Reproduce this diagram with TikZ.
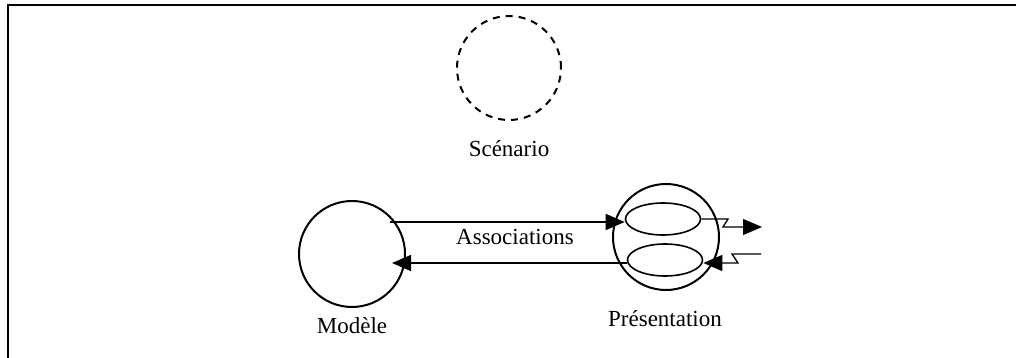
\documentclass[tikz,border=0pt]{standalone}
\usepackage{fontspec}
\setmainfont{Liberation Serif}
\usetikzlibrary{shapes.geometric,arrows.meta,calc}
\begin{document}
\begin{tikzpicture}[x=1pt,y=-1pt,
  bigcirc/.style={circle,draw,line width=2pt,minimum size=106pt,inner sep=0pt},
  oval/.style={ellipse,draw,line width=1.6pt,minimum width=75pt,minimum height=32pt,inner sep=0pt},
  lbl/.style={font=\fontsize{23}{26}\selectfont,inner sep=0pt},
  arr/.style={line width=1.3pt,-{Triangle[length=19pt,width=16pt]}},
  zig/.style={line width=1.3pt}]
\useasboundingbox (0,0) rectangle (1016,358);
\draw[line width=2.5pt] (1016,5) -- (8,5) -- (8,358);
\node[bigcirc,dashed,dash pattern=on 7pt off 6pt,minimum size=104pt] (scen) at (509,68) {};
\node[lbl] (scenl) at (509,149) {Scénario};
\node[bigcirc] (mod) at (352,254) {};
\node[lbl] (modl) at (352,326) {Modèle};
\node[bigcirc] (pres) at (666,237) {};
\node[lbl] (presl) at (665,319) {Présentation};
\node[oval] (e1) at (663,219) {};
\node[oval] (e2) at (665,260) {};
\node[lbl] (assoc) at (515,237) {Associations};
\coordinate (mstart) at (390,222);
\coordinate (mend) at (392,263);
\draw[arr] (mstart) -- (mstart -| e1.west);
\draw[arr] (e2.west |- mend) -- (mend);
% upper outgoing zigzag
\coordinate (o1) at (762,227);
\draw[zig] (e1.east) -- (728,219) -- (723,227) -- (743,227);
\draw[arr] (743,227) -- (o1);
% lower incoming zigzag
\coordinate (i1) at (761,254);
\draw[zig] (i1) -- (732,254) -- (738,263) -- (718,263);
\draw[arr] (718,263) -- (e2.east |- 0,263);
\end{tikzpicture}
\end{document}
